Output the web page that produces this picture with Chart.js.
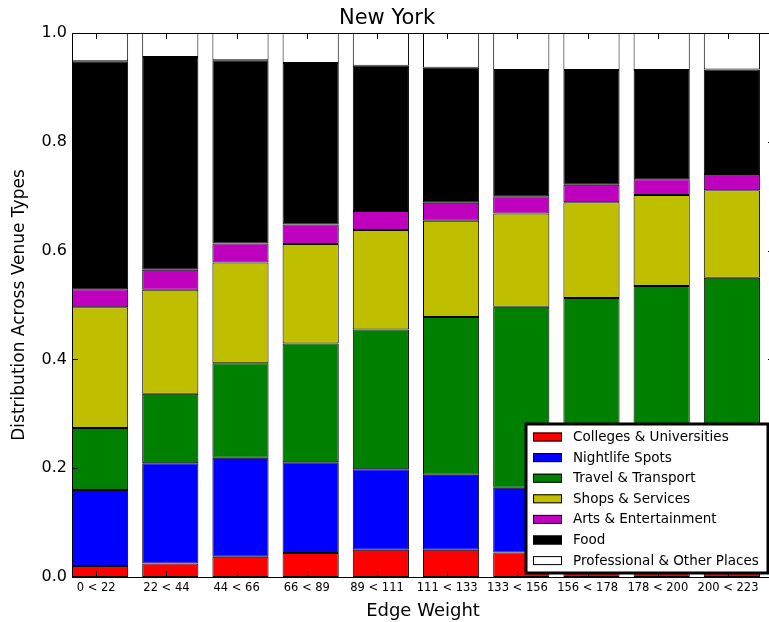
<!DOCTYPE html>
<html lang="en">
<head>
<meta charset="UTF-8">
<title>New York - Venue Types by Edge Weight</title>
<script src="https://cdn.jsdelivr.net/npm/chart.js"></script>
<style>
    html, body {
        margin: 0;
        padding: 0;
        background: #fff;
        overflow: hidden;
    }

    .chart-box {
        width: 776px;
        height: 622px;
    }
</style>
</head>
<body>
<div class="chart-box"><canvas id="venueChart"></canvas></div>

<script>
    // bins of edge weight (x axis)
    const edgeWeights = ['0 < 22', '22 < 44', '44 < 66', '66 < 89', '89 < 111',
                         '111 < 133', '133 < 156', '156 < 178', '178 < 200', '200 < 223'];

    // share of each venue type per bin
    const colleges     = [0.020, 0.025, 0.037, 0.044, 0.050, 0.050, 0.045, 0.045, 0.044, 0.043];
    const nightlife    = [0.140, 0.184, 0.182, 0.167, 0.148, 0.138, 0.119, 0.105, 0.096, 0.089];
    const travel       = [0.114, 0.128, 0.174, 0.218, 0.257, 0.290, 0.333, 0.363, 0.395, 0.418];
    const shops        = [0.222, 0.191, 0.185, 0.183, 0.183, 0.177, 0.171, 0.176, 0.167, 0.161];
    const arts         = [0.033, 0.037, 0.035, 0.036, 0.035, 0.033, 0.032, 0.032, 0.029, 0.030];
    const food         = [0.419, 0.391, 0.337, 0.297, 0.267, 0.248, 0.232, 0.211, 0.201, 0.192];
    const professional = [0.052, 0.044, 0.050, 0.055, 0.060, 0.064, 0.068, 0.068, 0.068, 0.067];

    const seriesNames  = ['Colleges & Universities', 'Nightlife Spots', 'Travel & Transport',
                          'Shops & Services', 'Arts & Entertainment', 'Food', 'Professional & Other Places'];
    const seriesValues = [colleges, nightlife, travel, shops, arts, food, professional];
    const seriesColors = ['#ff0000', '#0000ff', '#008000', '#bfbf00', '#bf00bf', '#000000', '#ffffff'];

    const yTicks = [0, 0.2, 0.4, 0.6, 0.8, 1.0];

    const FONT = '"DejaVu Sans", sans-serif';

    // matplotlib style: ticks point inwards, full box round the axes
    const frameAndTicks = {
        id: 'frameAndTicks',
        afterDatasetsDraw(chart) {
            const { ctx, chartArea: a, scales } = chart;
            const len = 6;
            ctx.save();
            ctx.strokeStyle = '#000';
            ctx.lineWidth = 1;
            ctx.beginPath();
            scales.x.ticks.forEach(t => {
                const px = Math.round(scales.x.getPixelForValue(t.value)) + 0.5;
                ctx.moveTo(px, a.bottom); ctx.lineTo(px, a.bottom - len);
                ctx.moveTo(px, a.top);    ctx.lineTo(px, a.top + len);
            });
            scales.y.ticks.forEach(t => {
                const py = Math.round(scales.y.getPixelForValue(t.value)) + 0.5;
                ctx.moveTo(a.left, py);  ctx.lineTo(a.left + len, py);
                ctx.moveTo(a.right, py); ctx.lineTo(a.right - len, py);
            });
            ctx.stroke();
            ctx.strokeRect(Math.round(a.left) + 0.5, Math.round(a.top) + 0.5,
                           Math.round(a.right - a.left), Math.round(a.bottom - a.top));
            ctx.restore();
        }
    };

    // boxed legend in the lower right corner of the axes
    const boxLegend = {
        id: 'boxLegend',
        afterDraw(chart) {
            const { ctx, chartArea: a } = chart;
            const w = 242, h = 149, rowH = 20.6;
            const x0 = a.right - 6 - w;
            const y0 = a.bottom - 4 - h;
            ctx.save();
            ctx.fillStyle = '#fff';
            ctx.fillRect(x0, y0, w, h);
            ctx.lineWidth = 3;
            ctx.strokeStyle = '#000';
            ctx.strokeRect(x0, y0, w, h);
            ctx.font = '13.5px ' + FONT;
            ctx.textBaseline = 'middle';
            chart.data.datasets.forEach((ds, i) => {
                const cy = y0 + 13 + i * rowH;
                ctx.fillStyle = ds.backgroundColor;
                ctx.fillRect(x0 + 7, cy - 4.5, 29, 9);
                ctx.lineWidth = 1;
                ctx.strokeRect(x0 + 7.5, cy - 4, 28, 8);
                ctx.fillStyle = '#000';
                ctx.fillText(ds.label, x0 + 47, cy + 0.5);
            });
            ctx.restore();
        }
    };

    const datasets = seriesNames.map((name, s) => ({
        label: name,
        data: seriesValues[s].map((v, i) => ({ x: i + 0.4, y: v })),
        backgroundColor: seriesColors[s],
        borderColor: '#000',
        borderWidth: 1,
        borderSkipped: false,
        barPercentage: 0.8,
        categoryPercentage: 1.0
    }));

    new Chart(document.getElementById('venueChart'), {
        type: 'bar',
        data: { datasets: datasets },
        options: {
            responsive: true,
            maintainAspectRatio: false,
            animation: false,
            layout: { padding: { left: 0, right: 2, top: 0, bottom: 0 } },
            plugins: {
                legend: { display: false },
                tooltip: { enabled: false },
                title: {
                    display: true,
                    text: 'New York',
                    color: '#000',
                    font: { family: FONT, size: 21, weight: 'normal', lineHeight: 1 },
                    padding: { top: 8, bottom: 4 }
                }
            },
            scales: {
                x: {
                    type: 'linear',
                    stacked: true,
                    offset: false,
                    min: 0,
                    max: 10,
                    afterBuildTicks: scale => {
                        scale.ticks = edgeWeights.map((_, i) => ({ value: i + 0.345 }));
                    },
                    afterFit: scale => { scale.height = 45; },
                    grid: { display: false, drawTicks: false },
                    border: { display: false },
                    ticks: {
                        autoSkip: false,
                        maxRotation: 0,
                        padding: 4,
                        color: '#000',
                        font: { family: FONT, size: 11.5 },
                        callback: (value, index) => edgeWeights[index]
                    },
                    title: {
                        display: true,
                        text: 'Edge Weight',
                        color: '#000',
                        font: { family: FONT, size: 18, lineHeight: 1 },
                        padding: { top: 0, bottom: 2 }
                    }
                },
                y: {
                    stacked: true,
                    min: 0,
                    max: 1,
                    afterBuildTicks: scale => {
                        scale.ticks = yTicks.map(v => ({ value: v }));
                    },
                    afterFit: scale => { scale.width = 72; },
                    grid: { display: false, drawTicks: false },
                    border: { display: false },
                    ticks: {
                        padding: 5,
                        color: '#000',
                        font: { family: FONT, size: 16 },
                        callback: v => v.toFixed(1)
                    },
                    title: {
                        display: true,
                        text: 'Distribution Across Venue Types',
                        color: '#000',
                        font: { family: FONT, size: 17, lineHeight: 1.2 },
                        padding: { top: 9, bottom: 0 }
                    }
                }
            }
        },
        plugins: [frameAndTicks, boxLegend]
    });
</script>
</body>
</html>
